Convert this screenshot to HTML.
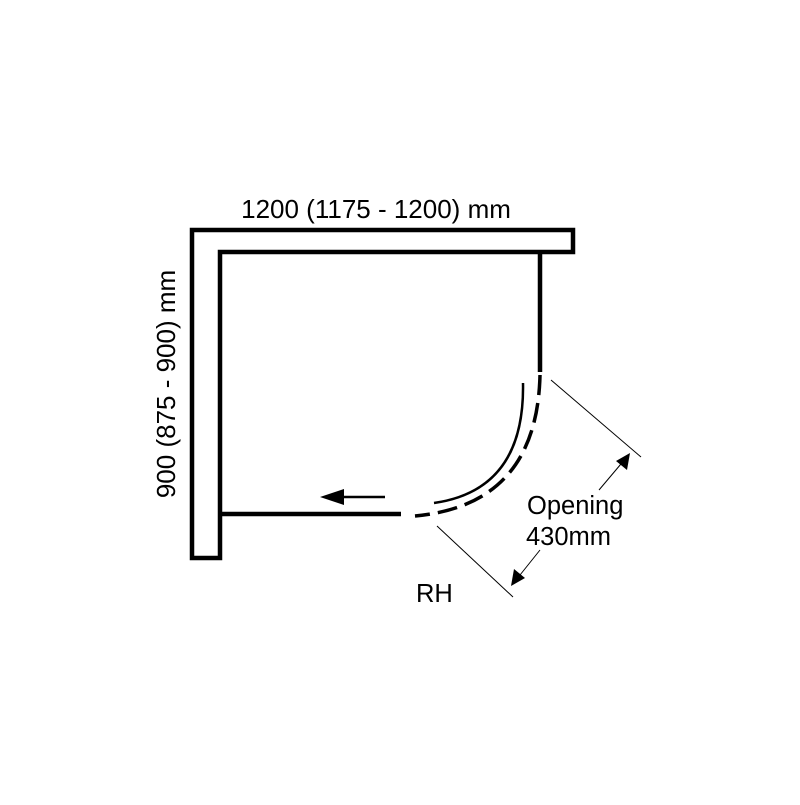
<!DOCTYPE html>
<html><head><style>body{margin:0;background:#fff}</style></head><body>
<svg width="800" height="800" viewBox="0 0 800 800" xmlns="http://www.w3.org/2000/svg" font-family="Liberation Sans, sans-serif">
<rect width="800" height="800" fill="#fff"/>
<text x="376" y="218" font-size="26" text-anchor="middle">1200 (1175 - 1200) mm</text>
<text transform="translate(175,384) rotate(-90)" font-size="26" text-anchor="middle">900 (875 - 900) mm</text>
<polygon points="192,230 573,230 573,252 220,252 220,558 192,558" fill="none" stroke="#000" stroke-width="4.5"/>
<line x1="540" y1="252" x2="540" y2="372" stroke="#000" stroke-width="4.5"/>
<line x1="220" y1="514" x2="401" y2="514" stroke="#000" stroke-width="4.5"/>
<path d="M540,375 Q537,505 415,516" fill="none" stroke="#000" stroke-width="3.5" stroke-dasharray="20,8"/>
<path d="M523,383 Q525,490 434,503" fill="none" stroke="#000" stroke-width="2.5"/>
<line x1="385" y1="497" x2="335" y2="497" stroke="#000" stroke-width="2.5"/>
<polygon points="320,497 344,489 344,505" fill="#000"/>
<line x1="551" y1="380" x2="641" y2="457" stroke="#000" stroke-width="1"/>
<line x1="437" y1="526" x2="513" y2="597" stroke="#000" stroke-width="1"/>
<line x1="599" y1="490" x2="626" y2="458" stroke="#000" stroke-width="1"/>
<polygon points="630,453 627,470 616,461" fill="#000"/>
<line x1="540" y1="550" x2="516" y2="580" stroke="#000" stroke-width="1"/>
<polygon points="511,586 514,569 525,578" fill="#000"/>
<text x="527" y="514" font-size="25.5">Opening</text>
<text x="526" y="545" font-size="25.5">430mm</text>
<text x="416" y="602" font-size="25.5">RH</text>
</svg>
</body></html>
